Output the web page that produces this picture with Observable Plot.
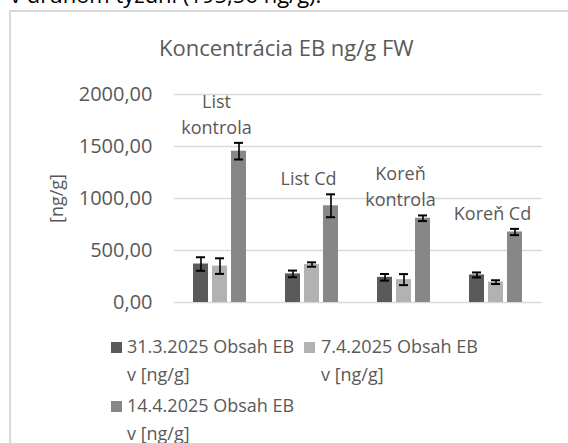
<!DOCTYPE html>
<html>
<head>
<meta charset="utf-8">
<script src="https://cdn.jsdelivr.net/npm/d3@7"></script>
<script src="https://cdn.jsdelivr.net/npm/@observablehq/plot@0.6"></script>
<style>
  html, body { margin: 0; padding: 0; background: #fff; }
  #wrap { position: relative; width: 568px; height: 443px; overflow: hidden; font-family: "Open Sans", sans-serif; }
  #chart { position: absolute; left: 0; top: 0; }
  #frame { position: absolute; left: 9px; top: 10px; width: 640px; height: 520px; border: 2px solid #d9d9d9; box-sizing: border-box; }
  #lead { position: absolute; left: 10px; top: -18px; font-size: 22px; line-height: 24px; color: #000; white-space: nowrap; }
  #title { position: absolute; left: 159px; top: 36px; font-size: 22px; line-height: 22px; color: #595959; white-space: nowrap; }
  .li { position: absolute; font-size: 18px; line-height: 28px; color: #595959; white-space: nowrap; }
  .sw { position: absolute; width: 11px; height: 11px; }
</style>
</head>
<body>
<div id="wrap">
  <div id="chart"></div>
  <div id="frame"></div>
  <div id="lead">v druhom týždni (195,56 ng/g).</div>
  <div id="title">Koncentrácia EB ng/g FW</div>
  <div id="legend"></div>
</div>
<script>
const categories = ["List kontrola", "List Cd", "Koreň kontrola", "Koreň Cd"];
const categoryLabels = ["List\nkontrola", "List Cd", "Koreň\nkontrola", "Koreň Cd"];
const series = ["31.3.2025 Obsah EB v [ng/g]", "7.4.2025 Obsah EB v [ng/g]", "14.4.2025 Obsah EB v [ng/g]"];
const colors = ["#5a5a5a", "#b2b2b2", "#878787"];
const values31 = [370, 275, 242, 265];
const err31 = [65, 32, 32, 24];
const values7 = [350, 365, 220, 195.56];
const err7 = [75, 21, 53, 18];
const values14 = [1455, 930, 810, 678];
const err14 = [80, 110, 27, 30];
const yTicks = [0, 500, 1000, 1500, 2000];

const valueSets = [values31, values7, values14];
const errSets = [err31, err7, err14];
const data = [];
categories.forEach((c, i) => {
  series.forEach((s, j) => {
    data.push({category: c, series: s, value: valueSets[j][i], err: errSets[j][i]});
  });
});
const groupTops = categories.map((c, i) => ({
  category: c,
  label: categoryLabels[i],
  top: d3.max(series.map((s, j) => valueSets[j][i] + errSets[j][i]))
}));

const fmt = d => d.toFixed(2).replace(".", ",");

const chart = Plot.plot({
  width: 568,
  height: 320,
  marginTop: 94,
  marginBottom: 18,
  marginLeft: 173,
  marginRight: 25,
  style: {fontFamily: "Open Sans", background: "transparent", overflow: "visible"},
  fx: {domain: categories, padding: 0, axis: null},
  x: {domain: series, paddingInner: 0.2, paddingOuter: 0.9125, axis: null},
  y: {domain: [0, 2000]},
  color: {domain: series, range: colors},
  marks: [
    Plot.ruleY(yTicks, {stroke: "#d9d9d9", strokeWidth: 1.7}),
    Plot.axisY({ticks: yTicks, tickSize: 0, tickPadding: 22, tickFormat: fmt, fontSize: 20, fill: "#595959", label: null}),
    Plot.axisY({ticks: [], label: "[ng/g]", labelAnchor: "center", labelArrow: "none", labelOffset: 124, fontSize: 18, fill: "#595959", tickSize: 0}),
    Plot.barY(data, {fx: "category", x: "series", y1: 0, y2: "value", fill: "series"}),
    Plot.ruleX(data, {fx: "category", x: "series", y1: d => d.value - d.err, y2: d => d.value + d.err, stroke: "#000", strokeWidth: 1.6}),
    Plot.tickY(data, {fx: "category", x: "series", y: d => d.value - d.err, stroke: "#000", strokeWidth: 2, insetLeft: 3, insetRight: 3}),
    Plot.tickY(data, {fx: "category", x: "series", y: d => d.value + d.err, stroke: "#000", strokeWidth: 2, insetLeft: 3, insetRight: 3}),
    Plot.text(groupTops, {fx: "category", y: "top", text: "label", lineAnchor: "bottom", lineHeight: 1.45, dy: -9, dx: -4, fontSize: 18, fill: "#595959"})
  ]
});
document.getElementById("chart").appendChild(chart);

// Legend
const legend = document.getElementById("legend");
const legendPos = [
  {sx: 111, sy: 342, tx: 127, ty: 332},
  {sx: 304, sy: 342, tx: 321, ty: 332},
  {sx: 111, sy: 401, tx: 127, ty: 391}
];
series.forEach((s, j) => {
  const p = legendPos[j];
  const sw = document.createElement("div");
  sw.className = "sw";
  sw.style.left = p.sx + "px";
  sw.style.top = p.sy + "px";
  sw.style.background = colors[j];
  legend.appendChild(sw);
  const t = document.createElement("div");
  t.className = "li";
  t.style.left = p.tx + "px";
  t.style.top = p.ty + "px";
  const k = s.indexOf(" v [");
  t.appendChild(document.createTextNode(s.slice(0, k)));
  t.appendChild(document.createElement("br"));
  t.appendChild(document.createTextNode(s.slice(k + 1)));
  legend.appendChild(t);
});
</script>
</body>
</html>
